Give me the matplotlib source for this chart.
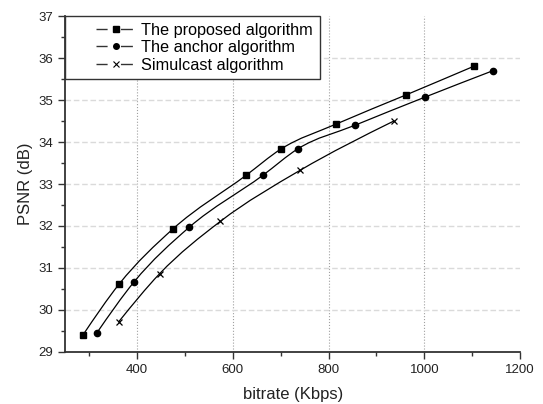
import matplotlib
matplotlib.use('Agg')
import matplotlib.pyplot as plt
import numpy as np
from matplotlib.path import Path
from matplotlib.patches import PathPatch, Rectangle
from matplotlib.lines import Line2D
from matplotlib.ticker import MultipleLocator

plt.rcParams['font.family'] = ['Liberation Sans', 'DejaVu Sans']

# data
prop_x = [287, 363, 475, 628, 700, 816, 961, 1104]
prop_y = [29.40, 30.62, 31.93, 33.21, 33.83, 34.43, 35.12, 35.81]
anchor_x = [316, 394, 509, 663, 736, 855, 1001, 1143]
anchor_y = [29.45, 30.67, 31.97, 33.21, 33.84, 34.40, 35.07, 35.70]
simul_x = [362, 447, 574, 741, 936]
simul_y = [29.72, 30.86, 32.11, 33.33, 34.50]

labels = ['The proposed algorithm', 'The anchor algorithm', 'Simulcast algorithm']
markers = ['s', 'o', 'x']


def smooth_path(x, y):
    # smooth curve y(x) through the points: cubic bezier with
    # slopes from neighbouring points
    x = np.asarray(x, float)
    y = np.asarray(y, float)
    n = len(x)
    d = np.diff(y) / np.diff(x)
    h = np.diff(x)
    m = np.empty(n)
    m[0], m[-1] = d[0], d[-1]
    for i in range(1, n - 1):
        m[i] = (d[i - 1] * h[i] + d[i] * h[i - 1]) / (h[i - 1] + h[i])
    m[0] = 1.5 * d[0] - 0.5 * m[1]
    m[-1] = 1.5 * d[-1] - 0.5 * m[-2]
    verts = [(x[0], y[0])]
    codes = [Path.MOVETO]
    for i in range(n - 1):
        dx = h[i] / 3
        verts += [(x[i] + dx, y[i] + m[i] * dx),
                  (x[i + 1] - dx, y[i + 1] - m[i + 1] * dx),
                  (x[i + 1], y[i + 1])]
        codes += [Path.CURVE4] * 3
    return Path(verts, codes)


fig = plt.figure(figsize=(5.43, 4.04), dpi=100)
ax = fig.add_axes([0.120, 0.129, 0.838, 0.831])

series = [(prop_x, prop_y), (anchor_x, anchor_y), (simul_x, simul_y)]
handles = []
for (x, y), m in zip(series, markers):
    ax.add_patch(PathPatch(smooth_path(x, y), fill=False, ec='black', lw=0.9, zorder=3))
    if m == 'x':
        ax.plot(x, y, ls='none', marker='x', ms=5, mew=0.9, color='black', zorder=4)
        mk = Line2D([], [], ls='none', marker='x', ms=4, mew=0.8, color='black')
    else:
        ax.plot(x, y, ls='none', marker=m, ms=4.5, color='black', zorder=4)
        mk = Line2D([], [], ls='none', marker=m, ms=4, color='black')
    ln = Line2D([], [], color='#333333', lw=1, dashes=[8, 9.6, 8.6, 100])
    handles.append((ln, mk))

ax.set_xlim(250, 1200)
ax.set_ylim(29, 37)
ax.xaxis.set_major_locator(MultipleLocator(200))
ax.xaxis.set_minor_locator(MultipleLocator(100))
ax.yaxis.set_major_locator(MultipleLocator(1))
ax.yaxis.set_minor_locator(MultipleLocator(0.5))

ax.grid(True, axis='y', color='#dadada', lw=1, dashes=(4, 2))
ax.grid(True, axis='x', color='#a0a0a0', lw=0.8, ls=':')
ax.set_axisbelow(True)

for sp in ['top', 'right']:
    ax.spines[sp].set_visible(False)
for sp in ['left', 'bottom']:
    ax.spines[sp].set_color('#333333')
    ax.spines[sp].set_linewidth(1.3)

ax.tick_params(which='major', direction='out', length=5, width=1, color='#333333',
               labelsize=9.5, labelcolor='#222222')
ax.tick_params(which='minor', direction='out', length=3, width=1, color='#333333')

ax.set_xlabel('bitrate (Kbps)', fontsize=12, color='#222222', labelpad=8)
ax.set_ylabel('PSNR (dB)', fontsize=12, color='#222222', labelpad=4)

leg = ax.legend(handles, labels, loc='upper left', bbox_to_anchor=(0.053, 1.0),
                frameon=False, fontsize=11.7, handlelength=2.45, handletextpad=0.35,
                labelspacing=0.15, borderpad=0.4, borderaxespad=0)
leg.set_zorder(6)

fig.canvas.draw()
# hide gridlines that fall on the plot edges
for t in ax.xaxis.get_major_ticks():
    if t.get_loc() >= 1200:
        t.gridline.set_visible(False)
for t in ax.yaxis.get_major_ticks():
    if t.get_loc() >= 37 or t.get_loc() <= 29:
        t.gridline.set_visible(False)

bb = leg.get_window_extent().transformed(ax.transAxes.inverted())
ax.add_patch(Rectangle((0, bb.y0), bb.x1, 1 - bb.y0, transform=ax.transAxes,
                       facecolor='white', edgecolor='#333333', lw=1, zorder=5,
                       clip_on=False))

fig.savefig('out.png', dpi=100)
